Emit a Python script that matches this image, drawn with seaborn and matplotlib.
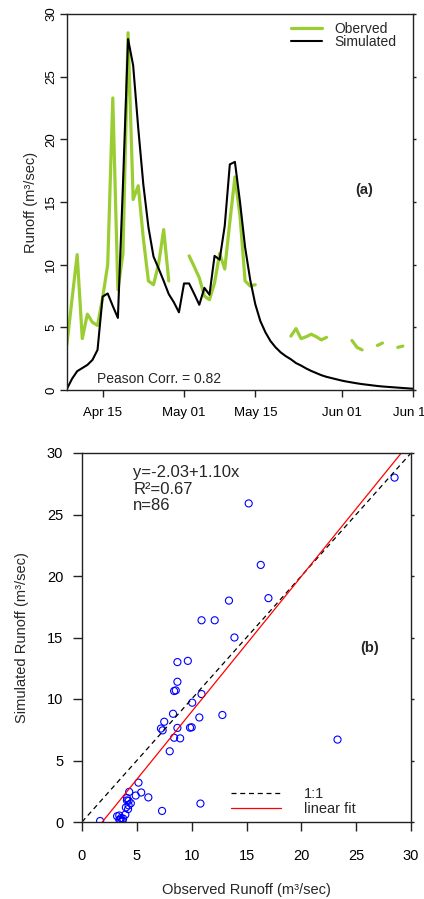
import numpy as np
import pandas as pd
import matplotlib
matplotlib.use("Agg")
import matplotlib.pyplot as plt
from matplotlib.lines import Line2D
import seaborn as sns

# ---------------- data ----------------
start_date = "2013-04-07"
nan = np.nan
observed = [1.65, 3.7, 7.3, 10.8, 4.1, 6.05, 5.4, 5.15, 7.35, 10.0,
            23.3, 8.0, 10.9, 28.5, 15.2, 16.3, 12.1, 8.7, 8.4, 10.05,
            12.8, 8.7, nan, nan, nan, 10.7, 9.85, 8.95, 7.5, 7.2,
            8.55, 10.9, 9.65, 13.4, 17.0, 13.9, 8.7, 8.3, 8.4, nan,
            nan, nan, nan, nan, nan, 4.3, 4.9, 4.1, 4.25, 4.45,
            4.25, 4.0, 4.2, nan, nan, nan, nan, 3.95, 3.4, 3.2,
            nan, nan, 3.55, 3.75, nan, nan, 3.4, 3.5, nan, nan]
simulated = [0.08, 0.1, 0.9, 1.5, 1.75, 2.0, 2.4, 3.2, 7.45, 7.7,
             6.7, 5.75, 16.4, 28.0, 25.9, 20.9, 16.4, 13.0, 10.65, 9.7,
             8.7, 7.65, 7.0, 6.2, 8.5, 8.5, 7.67, 6.8, 8.15, 7.6,
             10.7, 10.4, 13.1, 18.0, 18.2, 15.0, 11.4, 8.8, 6.85, 5.5,
             4.6, 3.9, 3.4, 3.0, 2.7, 2.45, 2.15, 1.95, 1.72, 1.52,
             1.35, 1.18, 1.05, 0.95, 0.85, 0.75, 0.67, 0.6, 0.53, 0.47,
             0.42, 0.37, 0.32, 0.28, 0.25, 0.22, 0.19, 0.16, 0.13, 0.1]
x_limits_a = ["2013-04-08", "2013-06-15"]
date_ticks = ["2013-04-15", "2013-05-01", "2013-05-15", "2013-06-01", "2013-06-15"]
date_tick_labels = ["Apr 15", "May 01", "May 15", "Jun 01", "Jun 15"]
runoff_ticks = [0, 5, 10, 15, 20, 25, 30]
fit_intercept = -2.03
fit_slope = 1.10
r_squared = 0.67
n_count = 86
pearson_corr = 0.82

# ---------------- style ----------------
sns.set_style("ticks")
plt.rcParams["font.family"] = ["Liberation Sans", "DejaVu Sans"]
plt.rcParams["axes.linewidth"] = 1.0
plt.rcParams["axes.edgecolor"] = "#222222"
plt.rcParams["xtick.color"] = "#222222"
plt.rcParams["ytick.color"] = "#222222"
plt.rcParams["xtick.labelcolor"] = "black"
plt.rcParams["ytick.labelcolor"] = "black"

green = "#9acd32"

dates = pd.date_range(start_date, periods=len(observed), freq="D")
df = pd.DataFrame({"date": dates, "obs": observed, "sim": simulated})
df["seg"] = df["obs"].isna().cumsum()

fig = plt.figure(figsize=(4.24, 8.99), dpi=100)
W, H = 424, 899
ax1 = fig.add_axes([67 / W, 1 - 390 / H, (413 - 67) / W, (390 - 14) / H])
ax2 = fig.add_axes([82 / W, 1 - 822 / H, (411 - 82) / W, (822 - 453) / H])

# ---------------- panel (a) ----------------
obs_df = df.dropna(subset=["obs"])
sns.lineplot(data=obs_df, x="date", y="obs", units="seg", estimator=None,
             color=green, lw=2.3, ax=ax1, legend=False)
sns.lineplot(data=df, x="date", y="sim", estimator=None,
             color="black", lw=1.5, ax=ax1, legend=False)
ax1.set_xlim(pd.to_datetime(x_limits_a[0]), pd.to_datetime(x_limits_a[1]))
ax1.set_ylim(0, 30)
ax1.set_xticks(pd.to_datetime(date_ticks))
ax1.set_xticklabels(date_tick_labels)
ax1.set_yticks(runoff_ticks)
ax1.set_xlabel("")
ax1.set_ylabel("Runoff (m³/sec)", fontsize=10.5)
ax1.yaxis.set_label_coords(-0.085, 0.5)
ax1.tick_params(axis="x", length=5, width=1, pad=7, labelsize=9.5)
ax1.tick_params(axis="y", length=5, width=1, pad=6.5, labelsize=9.5, labelrotation=90)
for lab in ax1.get_yticklabels():
    lab.set_va("center")
    lab.set_ha("center")
ax1.tick_params(axis="y", which="both", right=True, labelright=False)
for t in ax1.yaxis.get_major_ticks():
    t.tick2line.set_markersize(2.5)
for s in ["top", "right", "left", "bottom"]:
    ax1.spines[s].set_visible(True)

handles_a = [Line2D([], [], color=green, lw=2.3), Line2D([], [], color="black", lw=1.5)]
ax1.legend(handles_a, ["Oberved", "Simulated"], loc="upper left",
           bbox_to_anchor=(0.648, 0.978), frameon=False, fontsize=10,
           handlelength=2.2, handletextpad=0.9, labelspacing=-0.1,
           borderpad=0, borderaxespad=0)
ax1.text(0.86, 0.532, "(a)", transform=ax1.transAxes, fontsize=10.5,
         fontweight="bold", ha="center", va="center")
ax1.text(0.086, 0.018, f"Peason Corr. = {pearson_corr:.2f}", transform=ax1.transAxes,
         fontsize=10, ha="left", va="baseline")

# ---------------- panel (b) ----------------
pairs = df.dropna(subset=["obs", "sim"])
sns.scatterplot(x=pairs["obs"], y=pairs["sim"], ax=ax2, marker="o", s=26,
                color="blue", facecolor="none", edgecolor="blue", linewidth=0.8)
ax2.axline((0, 0), slope=1, color="black", lw=0.9, ls=(0, (4, 3)))
ax2.axline((0, fit_intercept), slope=fit_slope, color="red", lw=0.9)
ax2.set_xlim(0, 30)
ax2.set_ylim(0, 30)
ax2.set_xticks(runoff_ticks)
ax2.set_yticks(runoff_ticks)
ax2.set_xlabel("Observed Runoff (m³/sec)", fontsize=10.5)
ax2.set_ylabel("Simulated Runoff (m³/sec)", fontsize=10.5)
ax2.xaxis.set_label_coords(0.5, -0.165)
ax2.yaxis.set_label_coords(-0.16, 0.5)
ax2.tick_params(axis="both", length=6.5, width=1, labelsize=10.5)
ax2.tick_params(axis="x", pad=13)
ax2.tick_params(axis="y", pad=7)
ax2.tick_params(axis="y", which="both", right=True, labelright=False)
for t in ax2.yaxis.get_major_ticks():
    t.tick2line.set_markersize(2.5)
for s in ["top", "right", "left", "bottom"]:
    ax2.spines[s].set_visible(True)

ann = [f"y={fit_intercept:.2f}+{fit_slope:.2f}x", f"R²={r_squared:.2f}", f"n={n_count}"]
for i, txt in enumerate(ann):
    ax2.text(0.156, 0.946 - i * 0.044, txt, transform=ax2.transAxes,
             fontsize=12, ha="left", va="center")
ax2.text(0.875, 0.472, "(b)", transform=ax2.transAxes, fontsize=10.5,
         fontweight="bold", ha="center", va="center")

handles_b = [Line2D([], [], color="black", lw=0.9, ls=(0, (4, 3))),
             Line2D([], [], color="red", lw=0.9)]
ax2.legend(handles_b, ["1:1", "linear fit"], loc="lower left",
           bbox_to_anchor=(0.453, 0.015), frameon=False, fontsize=10.5,
           handlelength=3.4, handletextpad=1.6, labelspacing=0.1,
           borderpad=0, borderaxespad=0)

fig.savefig("out.png", dpi=100)
